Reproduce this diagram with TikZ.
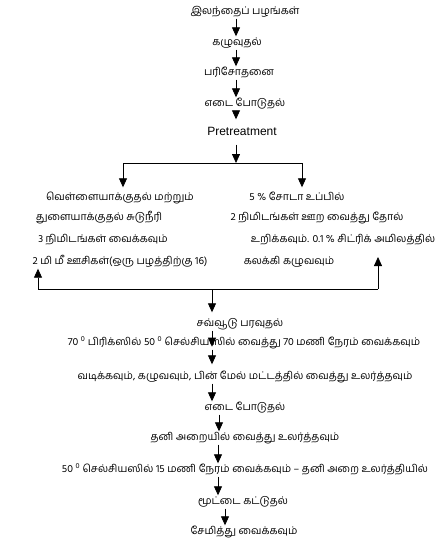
\documentclass[tikz,border=0pt]{standalone}
\usepackage{fontspec}
\setmainfont{Liberation Sans}
\newfontfamily\tamil[Script=Tamil]{Hind Madurai}
\usetikzlibrary{arrows.meta}

\begin{document}
\begin{tikzpicture}[x=1pt, y=-1pt,
  txt/.style={inner sep=1pt, text height=8pt, text depth=3pt, font=\tamil\fontsize{10.5}{12}\selectfont},
  arr/.style={-{Triangle[length=9pt, width=8pt]}, line width=0.8pt},
  ln/.style={line width=0.8pt}]
\useasboundingbox (0,0) rectangle (446,546);

\node[txt] (fruit) at (245,12) {இலந்தைப் பழங்கள்};
\node[txt] (wash) at (237,43) {கழுவுதல்};
\node[txt] (check) at (239,73) {பரிசோதனை};
\node[txt] (weigh) at (245,104) {எடை போடுதல்};
\node[txt, font=\fontsize{12}{14}\selectfont] (pre) at (242,133) {Pretreatment};

\node[txt] (bleach) at (120,198) {வெள்ளையாக்குதல் மற்றும்};
\node[txt] (prick) at (99,218) {துளையாக்குதல் சுடுநீரி};
\node[txt] (three) at (103,240) {3 நிமிடங்கள் வைக்கவும்};
\node[txt] (pin) at (120,262) {2 மி மீ ஊசிகள்(ஒரு பழத்திற்கு 16)};

\node[txt] (soda) at (297,198) {5 \% சோடா உப்பில்};
\node[txt] (soak) at (317,218) {2 நிமிடங்கள் ஊற வைத்து தோல்};
\node[txt] (peel) at (343,240) {உறிக்கவும். 0.1 \% சிட்ரிக் அமிலத்தில்};
\node[txt] (rinse) at (289,262) {கலக்கி கழுவவும்};

\node[txt] (osm) at (240,324) {சவ்வூடு பரவுதல்};
\node[txt] (brix) at (244,343) {70 \textsuperscript{0} பிரிக்ஸில் 50 \textsuperscript{0} செல்சியஸில் வைத்து 70 மணி நேரம் வைக்கவும்};
\node[txt] (drain) at (245,377) {வடிக்கவும், கழுவவும், பின் மேல் மட்டத்தில் வைத்து உலர்த்தவும்};
\node[txt] (weigh2) at (245,408) {எடை போடுதல்};
\node[txt] (room) at (245,438) {தனி அறையில் வைத்து உலர்த்தவும்};
\node[txt] (dryer) at (245,470) {50 \textsuperscript{0} செல்சியஸில் 15 மணி நேரம் வைக்கவும் – தனி அறை உலர்த்தியில்};
\node[txt] (pack) at (243,502) {மூட்டை கட்டுதல்};
\node[txt] (store) at (244,532) {சேமித்து வைக்கவும்};

\coordinate (c1) at (236,0);
\coordinate (c2) at (212,0);
\coordinate (c3) at (219,0);
\coordinate (c4) at (218,0);
\coordinate (c5) at (225,0);
\coordinate (split) at (236,163);
\coordinate (sl) at (123,163);
\coordinate (sr) at (302,163);
\coordinate (jl) at (38,289);
\coordinate (jr) at (378,289);
\coordinate (jm) at (212,289);

\draw[arr] (fruit.south -| c1) -- (wash.north -| c1);
\draw[arr] (wash.south -| c1) -- (check.north -| c1);
\draw[arr] (check.south -| c1) -- (weigh.north -| c1);
\draw[arr, shorten >=7pt] (weigh.south -| c1) -- (pre.north -| c1);
\draw[arr, shorten <=5pt] (pre.south -| c1) -- (split);
\draw[ln] (sl) -- (sr);
\draw[arr, shorten >=4pt] (sl) -- (bleach.north -| sl);
\draw[arr, shorten >=4pt] (sr) -- (soda.north -| sr);

\draw[ln] (jl) -- (jr);
\draw[arr] (jl) -- (pin.south -| jl);
\draw[arr] (jr) -- ++(0,-32);
\draw[arr, shorten >=5pt] (jm) -- (osm.north -| jm);

\draw[arr, shorten >=3pt] (osm.south -| c2) -- (brix.south -| c2);
\draw[arr, shorten >=6pt] (brix.south -| c2) -- (drain.north -| c2);
\draw[arr] (drain.south -| c2) -- (weigh2.north -| c2);
\draw[arr] (weigh2.south -| c3) -- (room.north -| c3);
\draw[arr] (room.south -| c4) -- (dryer.north -| c4);
\draw[arr] (dryer.south -| c4) -- (pack.north -| c4);
\draw[arr] (pack.south -| c5) -- (store.north -| c5);
\end{tikzpicture}
\end{document}
